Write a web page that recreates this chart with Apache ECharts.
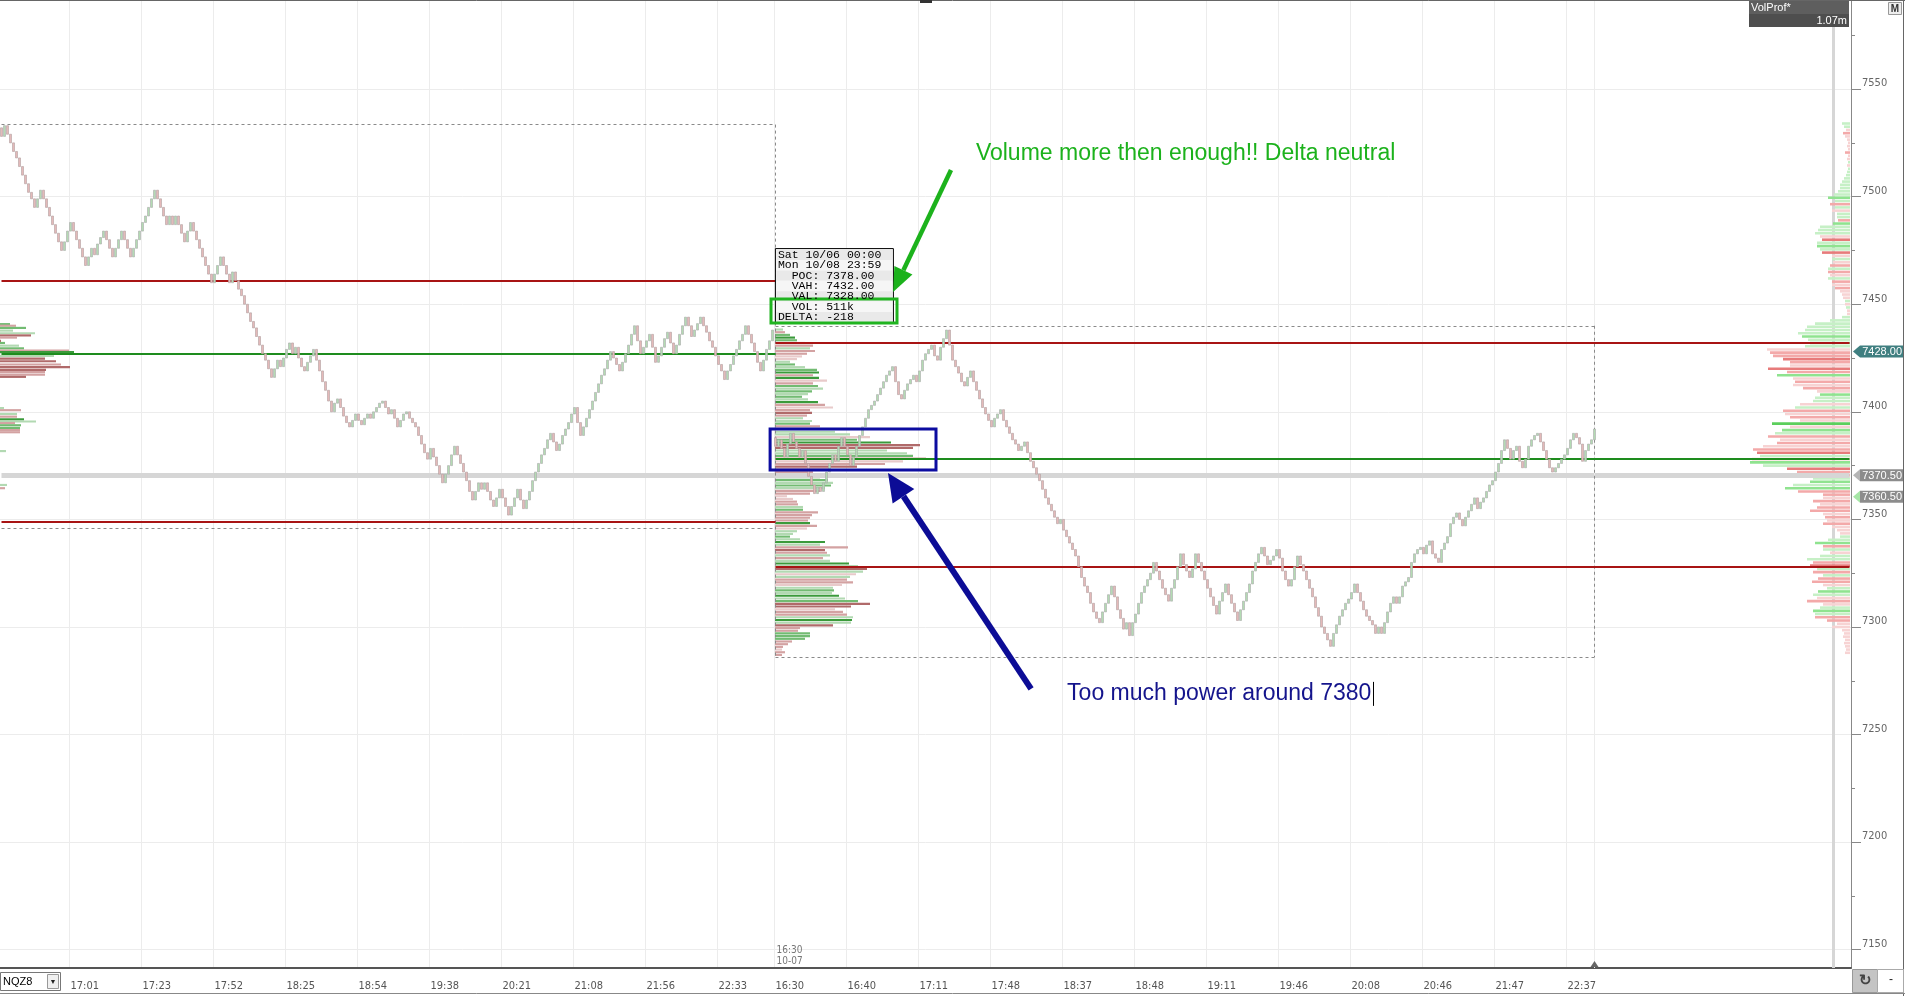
<!DOCTYPE html>
<html>
<head>
<meta charset="utf-8">
<title>NQZ8 volume profile</title>
<script src="https://cdn.jsdelivr.net/npm/echarts@6/dist/echarts.min.js"></script>
<style>
  html, body { margin: 0; padding: 0; background: #fff; }
  #chart { width: 1905px; height: 996px; }
</style>
</head>
<body>
<div id="chart"></div>
<script>
// renko bricks, one close per slot (3px per slot)
var session1Open = 7532;
var session1Close = [
  7528,7533,7529,7525,7521,7518,7514,7510,7506,7502,
  7499,7495,7499,7503,7499,7495,7491,7487,7483,7479,
  7475,7479,7484,7488,7484,7480,7476,7472,7468,7472,
  7476,7473,7478,7481,7484,7480,7476,7472,7476,7480,
  7484,7480,7476,7472,7476,7480,7484,7488,7491,7495,
  7499,7503,7499,7495,7491,7487,7491,7487,7491,7487,
  7483,7479,7484,7488,7484,7480,7476,7472,7468,7464,
  7460,7464,7468,7472,7468,7464,7460,7465,7461,7457,
  7454,7450,7446,7442,7439,7435,7431,7427,7424,7420,
  7416,7420,7424,7421,7425,7429,7432,7427,7430,7425,
  7421,7419,7423,7426,7429,7424,7419,7414,7410,7405,
  7400,7404,7406,7402,7398,7395,7393,7396,7399,7396,
  7394,7397,7399,7397,7400,7402,7404,7405,7402,7399,
  7401,7397,7393,7396,7399,7400,7397,7395,7393,7389,
  7385,7381,7378,7383,7379,7375,7371,7367,7371,7375,
  7380,7384,7380,7376,7372,7368,7363,7359,7363,7367,
  7364,7367,7363,7359,7356,7360,7364,7360,7356,7352,
  7356,7360,7364,7359,7355,7359,7363,7368,7372,7376,
  7380,7383,7387,7390,7386,7382,7385,7389,7392,7395,
  7399,7402,7395,7389,7393,7397,7401,7405,7409,7413,
  7417,7420,7424,7428,7425,7422,7419,7423,7427,7431,
  7436,7440,7433,7427,7430,7433,7436,7430,7423,7426,
  7430,7434,7437,7432,7427,7431,7436,7440,7444,7440,
  7435,7438,7441,7444,7440,7437,7433,7430,7426,7422,
  7419,7415,7419,7422,7426,7429,7433,7436,7440,7436,
  7432,7428,7423,7419,7424,7429,7433,7438
];
var session2Start = 258;
var session2Open = 7388;
var session2Close = [
  7384,7387,7383,7379,7385,7390,7386,7383,7379,7382,
  7376,7370,7366,7362,7365,7363,7367,7372,7376,7380,
  7377,7384,7388,7384,7380,7375,7379,7384,7389,7393,
  7397,7401,7403,7405,7408,7411,7414,7417,7419,7421,
  7414,7408,7406,7410,7413,7415,7417,7414,7419,7424,
  7427,7429,7431,7426,7424,7430,7434,7438,7431,7424,
  7421,7418,7414,7412,7416,7419,7414,7410,7406,7402,
  7399,7396,7393,7397,7399,7401,7396,7393,7390,7387,
  7385,7382,7384,7386,7381,7377,7374,7371,7368,7364,
  7360,7357,7354,7351,7348,7350,7345,7342,7339,7336,
  7333,7328,7323,7319,7316,7311,7307,7304,7302,7307,
  7311,7315,7319,7314,7308,7304,7299,7302,7296,7302,
  7306,7311,7316,7319,7322,7325,7330,7326,7322,7318,
  7315,7312,7318,7322,7328,7334,7329,7326,7323,7327,
  7334,7330,7326,7322,7318,7314,7310,7306,7312,7316,
  7320,7315,7311,7307,7303,7308,7312,7316,7320,7326,
  7330,7334,7337,7333,7329,7331,7333,7336,7332,7326,
  7322,7319,7322,7328,7333,7329,7326,7322,7318,7314,
  7309,7305,7300,7297,7294,7291,7297,7301,7305,7308,
  7311,7313,7316,7320,7316,7312,7308,7305,7303,7301,
  7297,7300,7297,7302,7307,7311,7314,7311,7314,7319,
  7321,7323,7330,7334,7336,7337,7334,7338,7340,7334,
  7332,7330,7336,7339,7342,7348,7351,7353,7350,7347,
  7351,7354,7357,7360,7355,7358,7360,7363,7366,7368,
  7372,7376,7382,7387,7383,7378,7382,7384,7377,7374,
  7378,7384,7387,7389,7390,7386,7382,7378,7374,7372,
  7374,7376,7378,7380,7383,7387,7390,7388,7385,7377,
  7382,7385,7387,7392
];
var slotCount = 617;
var lastSlot = 531;

var tickSlots = [23, 47, 71, 95, 119, 143, 167, 191, 215, 239, 258, 282, 306, 330, 354, 378, 402, 426, 450, 474, 498, 522];
var tickLabels = ['17:01', '17:23', '17:52', '18:25', '18:54', '19:38', '20:21', '21:08', '21:56', '22:33',
  '16:30', '16:40', '17:11', '17:48', '18:37', '18:48', '19:11', '19:46', '20:08', '20:46', '21:47', '22:37'];

var priceMin = 7141.5;
var priceMax = 7591.4;
var priceLabels = [7150, 7200, 7250, 7300, 7350, 7400, 7450, 7500, 7550];
var priceTicks = [7175, 7225, 7275, 7325, 7375, 7425, 7475, 7525, 7575];

// value area levels: VAH, POC, VAL
var session1Levels = [7461, 7427, 7349];
var session2Levels = [7432, 7378, 7328];
var session1Range = [7346, 7533.5];
var session2Range = [7286, 7440];
var userLine = 7370.5;
var markerPrices = [7428, 7370.5, 7360.5];
var markerLabels = ['7428.00', '7370.50', '7360.50'];

// session 1 profile, only the tails are on screen
var leftPrice = [7440.75, 7440, 7439, 7437.75, 7436.5, 7435.5, 7434.5, 7433, 7432, 7430.75, 7429.5, 7428.5,
  7427.75, 7426, 7424.75, 7423.5, 7422, 7420.75, 7419.5, 7418.5, 7417.25, 7416.25,
  7401.75, 7400.75, 7399, 7397.75, 7396.5, 7395.5, 7394.75, 7393.75, 7392.5, 7391.5, 7390.5, 7381.75, 7366, 7364.5];
var leftVol = [10, 16, 26, 13, 35, 31, 17, 1, 5, 19, 24, 69, 74, 54, 45, 56, 61, 70, 46, 45, 45, 26,
  4, 21, 17, 17, 24, 36, 15, 21, 20, 20, 20, 6, 7, 5];
var leftTone = [1, 4, 1, 2, 2, 3, 4, 3, 1, 2, 1, 4, 0, 2, 3, 3, 4, 3, 3, 4, 4, 3,
  2, 4, 2, 4, 0, 2, 4, 1, 1, 4, 4, 2, 2, 4];

// session 2 profile rows, 1.25 pt each, from the top
var midTop = 7438.25;
var midStep = 1.25;
var midVol = [8, 10, 15, 20, 22, 30, 38, 35, 40, 32, 27, 22, 15, 20, 30, 42, 44, 38, 44, 52,
  38, 43, 48, 37, 33, 27, 33, 43, 50, 58, 35, 37, 32, 28, 37, 35, 45, 47, 60, 75,
  95, 82, 116, 145, 138, 112, 132, 138, 151, 128, 110, 82, 55, 38, 38, 45, 53, 58, 56, 50,
  45, 35, 12, 18, 22, 23, 28, 28, 43, 37, 35, 33, 35, 42, 32, 22, 18, 15, 25, 50,
  45, 73, 50, 52, 55, 48, 55, 74, 83, 92, 88, 81, 75, 72, 78, 67, 58, 59, 57, 64,
  70, 83, 95, 76, 60, 68, 72, 78, 77, 76, 58, 25, 23, 35, 35, 30, 17, 13, 8, 7, 10, 7];
var midTone = [2, 4, 1, 0, 1, 5, 4, 2, 4, 4, 5, 5, 2, 1, 2, 1, 0, 4, 0, 5,
  4, 1, 2, 1, 2, 1, 2, 0, 4, 5, 4, 3, 4, 2, 2, 1, 4, 2, 2, 2,
  5, 1, 0, 3, 3, 2, 2, 1, 4, 5, 4, 3, 4, 4, 1, 2, 1, 2, 1, 2,
  4, 4, 5, 5, 4, 4, 2, 1, 4, 4, 4, 4, 0, 4, 5, 2, 2, 1, 2, 0,
  2, 4, 3, 4, 2, 4, 2, 0, 2, 3, 2, 5, 2, 4, 4, 5, 2, 1, 2, 0,
  2, 1, 3, 3, 5, 4, 4, 2, 0, 2, 3, 4, 4, 1, 1, 1, 4, 4, 4, 5, 4, 4];

// composite VolProf rows, 1.5 pt each, from the top
var rightTop = 7534;
var rightStep = 1.5;
var rightVol = [8, 6, 4, 7, 5, 3, 2, 3, 2, 5, 2, 3, 2, 3, 2, 3, 4, 6, 8, 10,
  10, 12, 16, 22, 15, 20, 15, 18, 13, 13, 12, 17, 30, 32, 35, 30, 28, 33, 33, 30,
  28, 18, 18, 17, 20, 22, 22, 20, 22, 18, 18, 15, 10, 8, 7, 5, 5, 4, 3, 3,
  8, 20, 35, 43, 45, 52, 48, 42, 40, 45, 83, 80, 77, 67, 60, 60, 82, 63, 73, 57,
  55, 57, 47, 33, 30, 35, 37, 50, 55, 67, 65, 60, 50, 78, 60, 68, 75, 82, 70, 73,
  87, 97, 93, 90, 98, 100, 87, 63, 53, 27, 37, 40, 57, 65, 52, 27, 27, 37, 30, 33,
  40, 27, 25, 23, 27, 18, 13, 10, 10, 22, 35, 27, 27, 20, 30, 43, 37, 40, 33, 37,
  27, 32, 38, 27, 23, 32, 37, 33, 43, 27, 30, 37, 35, 35, 23, 13, 18, 8, 6, 7,
  5, 6, 5, 4, 5];
var rightTone = [2, 2, 5, 4, 5, 5, 5, 5, 5, 4, 5, 5, 2, 5, 2, 2, 2, 2, 2, 2,
  2, 2, 2, 1, 2, 4, 2, 5, 2, 2, 4, 1, 2, 2, 2, 5, 3, 2, 1, 2,
  3, 5, 2, 5, 4, 2, 4, 5, 2, 4, 5, 4, 5, 5, 5, 2, 5, 2, 5, 5,
  2, 2, 2, 2, 2, 2, 1, 2, 1, 2, 5, 4, 4, 3, 4, 5, 3, 4, 1, 5,
  4, 5, 4, 5, 1, 2, 2, 5, 2, 4, 5, 4, 5, 0, 5, 1, 2, 4, 5, 4,
  5, 4, 3, 2, 5, 1, 2, 3, 4, 4, 2, 1, 2, 1, 4, 4, 5, 4, 5, 4,
  4, 5, 4, 5, 4, 5, 5, 5, 2, 2, 1, 4, 2, 5, 2, 2, 4, 3, 2, 4,
  2, 4, 4, 5, 2, 1, 2, 5, 4, 5, 2, 1, 2, 4, 4, 5, 5, 5, 5, 5,
  5, 5, 5, 5, 5];

var infoLines = ['Sat 10/06 00:00', 'Mon 10/08 23:59', '  POC: 7378.00', '  VAH: 7432.00', '  VAL: 7328.00', '  VOL: 511k', 'DELTA: -218'];
var greenNote = 'Volume more then enough!! Delta neutral';
var blueNote = 'Too much power around 7380';
// annotation anchors as [slot, price]
var greenNoteAt = [324.8, 7519.8];
var greenArrow = [[316.5, 7512.4], [297.2, 7455.7]];
var greenBox = [[256.5, 7452.4], [298.5, 7441.3]];
var infoAt = [257.8, 7476.1];
var blueBox = [[256.2, 7392], [311.5, 7373]];
var blueArrow = [[343.2, 7271.2], [295.5, 7371.6]];
var blueNoteAt = [355.2, 7268.9];

var NARROW = "'Liberation Sans Narrow', 'DejaVu Sans Condensed', sans-serif";
var SANS = "'Liberation Sans', Arial, sans-serif";
var MONO = "'Liberation Mono', 'DejaVu Sans Mono', monospace";
var RED = '#a81414';
var GREEN = '#1e8c1e';
var sessionPalette = ['#3b9a3b', '#72bb72', '#b2d9b2', '#b06a6a', '#d3a2a2', '#e8caca'];
var compositePalette = ['#5ccf5c', '#8fe38f', '#c6f0c6', '#e77b7b', '#f3a9a9', '#f7d3d3'];

var slotNames = [];
var candles = [];
for (var i = 0; i < slotCount; i++) {
  slotNames.push(String(i));
  var o = null, c = null;
  if (i < session1Close.length) {
    c = session1Close[i];
    o = i === 0 ? session1Open : session1Close[i - 1];
  } else if (i >= session2Start && i < session2Start + session2Close.length) {
    var j = i - session2Start;
    c = session2Close[j];
    o = j === 0 ? session2Open : session2Close[j - 1];
  }
  candles.push(c === null ? '-' : [o, c, Math.min(o, c), Math.max(o, c)]);
}

var tickIndex = {};
tickSlots.forEach(function (s, k) { tickIndex[s] = tickLabels[k]; });
function isTick(index) { return tickIndex.hasOwnProperty(index); }

function rows(vols, tones, top, step, prices) {
  return vols.map(function (v, k) {
    return [v, prices ? prices[k] : top - k * step, tones[k]];
  });
}

function profile(gridIdx, data, palette, step, z) {
  return {
    type: 'custom',
    xAxisIndex: gridIdx,
    yAxisIndex: gridIdx + 1,
    z: z,
    silent: true,
    encode: { x: 0, y: 1 },
    data: data,
    renderItem: function (params, api) {
      var a = api.coord([0, api.value(1)]);
      var b = api.coord([api.value(0), api.value(1)]);
      var h = api.size([0, step])[1] * 0.8;
      return {
        type: 'rect',
        shape: { x: Math.min(a[0], b[0]), y: a[1] - h / 2, width: Math.abs(b[0] - a[0]), height: h },
        style: { fill: palette[api.value(2)] }
      };
    }
  };
}

function seg(x1, y1, x2, y2, style) {
  return [{ coord: [x1, y1], lineStyle: style }, { coord: [x2, y2] }];
}

var dash = { color: '#8a8a8a', width: 1, type: [3, 3] };
var levelLines = [
  seg(0, userLine, slotCount - 1, userLine, { color: '#d6d6d6', width: 5, type: 'solid' }),
  seg(lastSlot, priceMin, lastSlot, priceMax, { color: '#ececec', width: 1, type: 'solid' }),
  seg(0, session1Range[1], session2Start, session1Range[1], dash),
  seg(0, session1Range[0], session2Start, session1Range[0], dash),
  seg(session2Start, session1Range[1], session2Start, session2Range[0], dash),
  seg(session2Start, session2Range[1], lastSlot, session2Range[1], dash),
  seg(session2Start, session2Range[0], lastSlot, session2Range[0], dash),
  seg(lastSlot, session2Range[1], lastSlot, session2Range[0], dash),
  seg(0, session1Levels[0], session2Start, session1Levels[0], { color: RED, width: 2, type: 'solid' }),
  seg(0, session1Levels[1], session2Start, session1Levels[1], { color: GREEN, width: 2, type: 'solid' }),
  seg(0, session1Levels[2], session2Start, session1Levels[2], { color: RED, width: 2, type: 'solid' }),
  seg(session2Start, session2Levels[0], slotCount - 1, session2Levels[0], { color: RED, width: 2, type: 'solid' }),
  seg(session2Start, session2Levels[1], slotCount - 1, session2Levels[1], { color: GREEN, width: 2, type: 'solid' }),
  seg(session2Start, session2Levels[2], slotCount - 1, session2Levels[2], { color: RED, width: 2, type: 'solid' })
];

function hiddenY(g) {
  return { gridIndex: g, type: 'value', min: priceMin, max: priceMax, show: false };
}

var chart = echarts.init(document.getElementById('chart'));
var option = {
  animation: false,
  backgroundColor: '#ffffff',
  textStyle: { fontFamily: SANS },
  grid: [
    { left: 0, right: 54, top: 0, bottom: 28 },
    { left: 0, width: 300, top: 0, bottom: 28 },
    { left: 775, width: 300, top: 0, bottom: 28 },
    { right: 55, width: 300, top: 0, bottom: 28 }
  ],
  xAxis: [
    {
      gridIndex: 0,
      type: 'category',
      data: slotNames,
      boundaryGap: true,
      axisLine: { lineStyle: { color: '#555', width: 2 } },
      axisTick: { interval: isTick, alignWithLabel: true, length: 6, lineStyle: { color: '#666' } },
      axisLabel: {
        interval: isTick,
        formatter: function (v, idx) { return tickIndex[idx] || ''; },
        align: 'left',
        margin: 13,
        color: '#555',
        fontSize: 11,
        fontFamily: NARROW
      },
      splitLine: { show: true, interval: isTick, lineStyle: { color: '#ececec' } }
    },
    { gridIndex: 1, type: 'value', min: 0, max: 300, show: false },
    { gridIndex: 2, type: 'value', min: 0, max: 300, show: false },
    { gridIndex: 3, type: 'value', min: 0, max: 300, inverse: true, show: false }
  ],
  yAxis: [
    {
      gridIndex: 0,
      type: 'value',
      position: 'right',
      min: priceMin,
      max: priceMax,
      axisLine: { show: true, lineStyle: { color: '#888' } },
      axisTick: { show: true, customValues: priceLabels, length: 10, lineStyle: { color: '#888' } },
      axisLabel: {
        customValues: priceLabels,
        formatter: function (v) { return String(v); },
        margin: 11,
        color: '#666',
        fontSize: 11,
        fontFamily: NARROW,
        verticalAlign: 'bottom'
      },
      splitLine: { show: true, lineStyle: { color: '#ececec' } }
    },
    {
      gridIndex: 0,
      type: 'value',
      position: 'right',
      min: priceMin,
      max: priceMax,
      axisLine: { show: false },
      axisTick: { show: true, customValues: priceTicks, length: 4, lineStyle: { color: '#888' } },
      axisLabel: { show: false },
      splitLine: { show: false }
    },
    hiddenY(1),
    hiddenY(2),
    hiddenY(3)
  ],
  series: [
    profile(1, rows(leftVol, leftTone, 0, 1.25, leftPrice), sessionPalette, 1.25, 2),
    profile(2, rows(midVol, midTone, midTop, midStep), sessionPalette, midStep, 2),
    {
      type: 'line',
      xAxisIndex: 0,
      yAxisIndex: 0,
      data: [],
      z: 3,
      silent: true,
      markLine: {
        silent: true,
        symbol: ['none', 'none'],
        label: { show: false },
        animation: false,
        data: levelLines
      }
    },
    profile(3, rows(rightVol, rightTone, rightTop, rightStep), compositePalette, rightStep, 4),
    {
      type: 'candlestick',
      xAxisIndex: 0,
      yAxisIndex: 0,
      data: candles,
      z: 5,
      large: false,
      barWidth: 1.8,
      silent: true,
      itemStyle: {
        color: '#b3dbb3',
        color0: '#e4b9b9',
        borderColor: '#a9a9a9',
        borderColor0: '#b0a0a0',
        borderWidth: 0.6
      }
    }
  ]
};
chart.setOption(option);

// drawings, placed through the chart's own scales
var x0px = chart.convertToPixel({ xAxisIndex: 0 }, 0);
var x100px = chart.convertToPixel({ xAxisIndex: 0 }, 100);
function toPx(p) {
  return [x0px + p[0] * (x100px - x0px) / 100, chart.convertToPixel({ yAxisIndex: 0 }, p[1])];
}
function arrow(from, to, color, width, headLen, headW) {
  var a = toPx(from), b = toPx(to);
  var dx = b[0] - a[0], dy = b[1] - a[1];
  var len = Math.sqrt(dx * dx + dy * dy);
  var ux = dx / len, uy = dy / len;
  var bx = b[0] - ux * headLen, by = b[1] - uy * headLen;
  return [
    { type: 'line', z: 100, shape: { x1: a[0], y1: a[1], x2: bx, y2: by }, style: { stroke: color, lineWidth: width } },
    {
      type: 'polygon', z: 100,
      shape: { points: [[b[0], b[1]], [bx - uy * headW / 2, by + ux * headW / 2], [bx + uy * headW / 2, by - ux * headW / 2]] },
      style: { fill: color }
    }
  ];
}
function box(p1, p2, color, width) {
  var a = toPx(p1), b = toPx(p2);
  return {
    type: 'rect', z: 100,
    shape: { x: a[0], y: a[1], width: b[0] - a[0], height: b[1] - a[1] },
    style: { fill: null, stroke: color, lineWidth: width }
  };
}

var yTop = chart.convertToPixel({ yAxisIndex: 0 }, priceMax);
var yBottom = chart.convertToPixel({ yAxisIndex: 0 }, priceMin);
var xAxisRight = chart.convertToPixel({ xAxisIndex: 0 }, slotCount - 1) + 1.5;
var graphics = [];

graphics.push({ type: 'rect', z: 1, shape: { x: 1832, y: 27, width: 3, height: yBottom - 27 }, style: { fill: '#d6d6d6' } });
graphics.push({ type: 'line', z: 90, shape: { x1: 0, y1: 0.5, x2: 1905, y2: 0.5 }, style: { stroke: '#666', lineWidth: 1 } });
graphics.push({ type: 'line', z: 90, shape: { x1: 1903.5, y1: 0, x2: 1903.5, y2: 996 }, style: { stroke: '#666', lineWidth: 1 } });
graphics.push({ type: 'line', z: 90, shape: { x1: 0, y1: 993.5, x2: 1905, y2: 993.5 }, style: { stroke: '#888', lineWidth: 1 } });
graphics.push({ type: 'rect', z: 90, shape: { x: 920, y: 0, width: 12, height: 3 }, style: { fill: '#333' } });

// VolProf caption and the M button
graphics.push({ type: 'rect', z: 90, shape: { x: 1749, y: 1, width: 100, height: 13 }, style: { fill: '#5e5e5e' } });
graphics.push({ type: 'rect', z: 90, shape: { x: 1749, y: 14, width: 100, height: 13 }, style: { fill: '#4e4e4e' } });
graphics.push({ type: 'text', z: 91, style: { x: 1751, y: 8, text: 'VolProf*', fill: '#fff', font: '11px ' + SANS, verticalAlign: 'middle' } });
graphics.push({ type: 'text', z: 91, style: { x: 1847, y: 21, text: '1.07m', fill: '#fff', font: '11px ' + SANS, align: 'right', verticalAlign: 'middle' } });
graphics.push({ type: 'rect', z: 90, shape: { x: 1888.5, y: 2.5, width: 13, height: 12 }, style: { fill: '#eeeeee', stroke: '#999' } });
graphics.push({ type: 'text', z: 91, style: { x: 1895, y: 9, text: 'M', fill: '#333', font: 'bold 10px ' + SANS, align: 'center', verticalAlign: 'middle' } });

// instrument box and corner buttons
graphics.push({ type: 'rect', z: 90, shape: { x: 0.5, y: 972.5, width: 60, height: 18 }, style: { fill: '#fff', stroke: '#777' } });
graphics.push({ type: 'text', z: 91, style: { x: 3, y: 982, text: 'NQZ8', fill: '#000', font: '11px ' + SANS, verticalAlign: 'middle' } });
graphics.push({ type: 'rect', z: 91, shape: { x: 47.5, y: 974.5, width: 11, height: 14 }, style: { fill: '#f0f0f0', stroke: '#999' } });
graphics.push({ type: 'text', z: 92, style: { x: 53, y: 982, text: '▼', fill: '#222', font: '7px ' + SANS, align: 'center', verticalAlign: 'middle' } });
graphics.push({ type: 'rect', z: 90, shape: { x: 1852.5, y: 969.5, width: 25, height: 23 }, style: { fill: '#c4c4c4', stroke: '#999' } });
graphics.push({ type: 'text', z: 91, style: { x: 1865, y: 981, text: '↻', fill: '#444', font: 'bold 15px ' + SANS, align: 'center', verticalAlign: 'middle' } });
graphics.push({ type: 'rect', z: 90, shape: { x: 1877.5, y: 969.5, width: 26, height: 23 }, style: { fill: '#fff', stroke: '#aaa' } });
graphics.push({ type: 'text', z: 91, style: { x: 1891, y: 980, text: '-', fill: '#222', font: '12px ' + SANS, align: 'center', verticalAlign: 'middle' } });

// session break stamp and last bar marker
var xBreak = toPx([session2Start, priceMin])[0];
graphics.push({ type: 'text', z: 91, style: { x: xBreak + 1, y: yBottom - 18, text: '16:30', fill: '#777', font: '10px ' + NARROW, verticalAlign: 'middle' } });
graphics.push({ type: 'text', z: 91, style: { x: xBreak + 1, y: yBottom - 7, text: '10-07', fill: '#777', font: '10px ' + NARROW, verticalAlign: 'middle' } });
var xLast = toPx([lastSlot, priceMin])[0];
graphics.push({ type: 'polygon', z: 91, shape: { points: [[xLast - 4, yBottom - 1], [xLast + 4, yBottom - 1], [xLast, yBottom - 7]] }, style: { fill: '#666' } });

// price tags on the axis
var tagFill = ['#3f7f80', '#8c8c8c', '#8c8c8c'];
var tagTip = ['#3f7f80', '#b5b5b5', '#a6e6a6'];
markerPrices.forEach(function (p, k) {
  var y = chart.convertToPixel({ yAxisIndex: 0 }, p);
  var xs = xAxisRight + 2;
  graphics.push({ type: 'polygon', z: 95, shape: { points: [[xs, y], [xs + 7, y - 6], [xs + 7, y + 6]] }, style: { fill: tagTip[k] } });
  graphics.push({ type: 'rect', z: 95, shape: { x: xs + 7, y: y - 6, width: 1903 - xs - 7, height: 12 }, style: { fill: tagFill[k] } });
  graphics.push({ type: 'text', z: 96, style: { x: 1902, y: y + 0.5, text: markerLabels[k], fill: '#fff', font: '11px ' + SANS, align: 'right', verticalAlign: 'middle' } });
});

// info box of the profile
var ip = toPx(infoAt);
var rowH = 10.4;
graphics.push({ type: 'rect', z: 100, shape: { x: ip[0] + 0.5, y: ip[1] + 0.5, width: 118, height: infoLines.length * rowH + 2 }, style: { fill: '#f6f6f6', stroke: '#000', lineWidth: 1 } });
infoLines.forEach(function (t, k) {
  graphics.push({ type: 'rect', z: 100, shape: { x: ip[0] + 1.5, y: ip[1] + 1.5 + k * rowH, width: 116, height: rowH }, style: { fill: k % 2 ? '#f6f6f6' : '#e9e9e9' } });
  graphics.push({ type: 'text', z: 101, style: { x: ip[0] + 3, y: ip[1] + 1.5 + (k + 0.5) * rowH, text: t, fill: '#000', font: '11.5px ' + MONO, verticalAlign: 'middle' } });
});

// annotations
graphics.push(box(greenBox[0], greenBox[1], '#20b420', 3));
graphics.push(box(blueBox[0], blueBox[1], '#0c0ca0', 3));
arrow(greenArrow[0], greenArrow[1], '#1cb21c', 4.5, 24, 20).forEach(function (g) { graphics.push(g); });
arrow(blueArrow[0], blueArrow[1], '#0c0c96', 6, 28, 26).forEach(function (g) { graphics.push(g); });
var gp = toPx(greenNoteAt);
graphics.push({ type: 'text', z: 100, style: { x: gp[0], y: gp[1], text: greenNote, fill: '#1cb21c', font: '23px ' + SANS, verticalAlign: 'middle' } });
var bp = toPx(blueNoteAt);
graphics.push({ type: 'text', z: 100, style: { x: bp[0], y: bp[1], text: blueNote, fill: '#14148c', font: '23px ' + SANS, verticalAlign: 'middle' } });
var ctx = document.createElement('canvas').getContext('2d');
ctx.font = "23px 'Liberation Sans', Arial, sans-serif";
var caretX = Math.round(bp[0] + ctx.measureText(blueNote).width + 2) + 0.5;
graphics.push({ type: 'line', z: 100, shape: { x1: caretX, y1: bp[1] - 12, x2: caretX, y2: bp[1] + 12 }, style: { stroke: '#000', lineWidth: 1 } });

chart.setOption({ graphic: graphics });
</script>
</body>
</html>
